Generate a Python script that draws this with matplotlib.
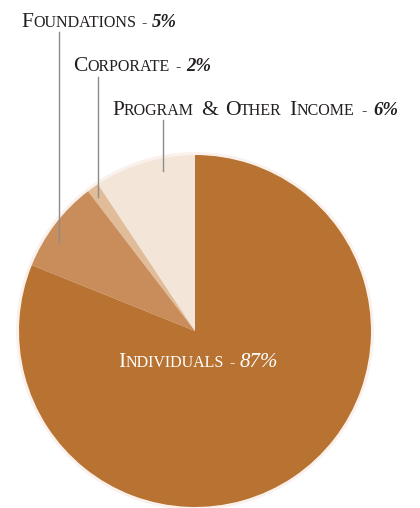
import matplotlib
matplotlib.use('Agg')
import matplotlib.pyplot as plt

# slices counter-clockwise from 12 o'clock (sizes as drawn in the chart)
categories = ['Program & Other Income', 'Corporate', 'Foundations', 'Individuals']
shares = [9.3, 1.1, 8.5, 81.1]
pct_text = ['6%', '2%', '5%', '87%']
colors = ['#F3E6D9', '#E0BC98', '#C98D5B', '#B87333']

W, H = 420, 508
fig = plt.figure(figsize=(W / 100, H / 100), dpi=100)
ax = fig.add_axes([0, 0, 1, 1])

# pie in pixel coords (y up)
cx, cy, r = 195, H - 331, 176
ax.pie(shares, colors=colors, startangle=90, counterclock=True,
       center=(cx, cy), radius=r, frame=True,
       wedgeprops=dict(linewidth=0))
ax.add_patch(plt.Circle((cx, cy), r + 1.5, fill=False, ec='#FBF1EC', lw=2, zorder=0))
ax.set_xlim(0, W)
ax.set_ylim(0, H)
ax.set_aspect('equal')
ax.axis('off')

renderer = fig.canvas.get_renderer()
FONT = 'Liberation Serif'


def small_caps(x, y, label, pct, color, big=15.5, small=11.5, gap=5.5,
               pct_size=13.5, pct_bold=True):
    # draw "Word Word - nn%" in small caps starting at pixel (x, y) baseline (y from top)
    parts = []
    for word in label.split(' '):
        if word == '&':
            parts.append(('&', big))
        else:
            parts.append((word[0].upper(), big))
            parts.append((word[1:].upper(), small))
        parts.append((None, gap))
    parts.append(('-', small))
    parts.append((None, gap))
    for text, size in parts:
        if text is None:
            x += size
            continue
        t = fig.text(x / W, 1 - y / H, text, fontsize=size, family=FONT,
                     color=color, va='baseline', ha='left')
        x += t.get_window_extent(renderer).width
    fig.text(x / W, 1 - y / H, pct, fontsize=pct_size, family=FONT, color=color,
             style='italic', weight='bold' if pct_bold else 'normal',
             va='baseline', ha='left')


txt = '#231F20'
small_caps(21, 27, 'Foundations', pct_text[2], txt)
small_caps(73, 71, 'Corporate', pct_text[1], txt)
small_caps(112, 115, 'Program & Other Income', pct_text[0], txt, gap=7)
small_caps(118, 367, 'Individuals', pct_text[3], 'white', pct_bold=False, pct_size=15)

# leader lines
line_c = '#8C8C8C'
ax.plot([59, 59], [H - 32, H - 242], color=line_c, lw=1)
ax.plot([98, 98], [H - 77, H - 197], color=line_c, lw=1)
ax.plot([163, 163], [H - 120, H - 171], color=line_c, lw=1)

fig.savefig('out.png', dpi=100, facecolor='white')
